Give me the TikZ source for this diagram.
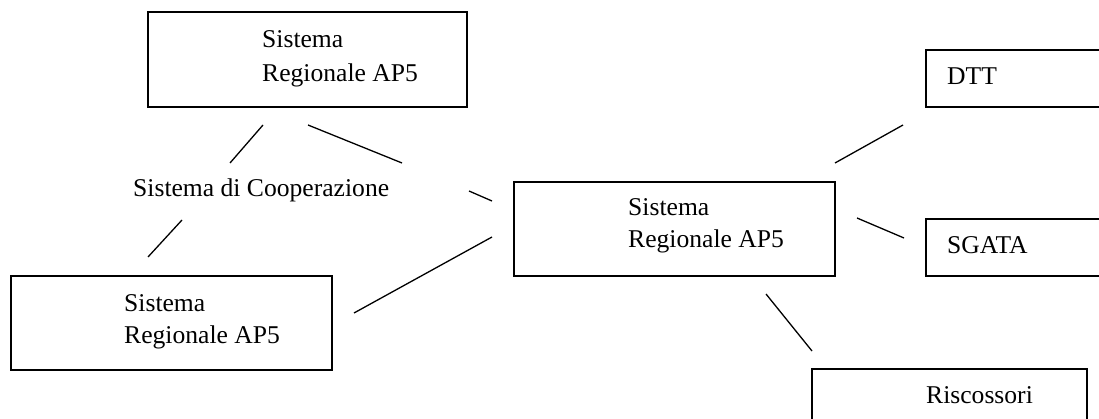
\documentclass[tikz,border=0pt]{standalone}
\usepackage{fontspec}
\setmainfont{Liberation Serif}
\begin{document}
\begin{tikzpicture}[x=1pt,y=-1pt,
  box/.style={draw=black,line width=1.3pt,fill=none},
  lbl/.style={anchor=base west,inner sep=0pt,font=\fontsize{25.6}{33}\selectfont},
  conn/.style={draw=black,line width=1.3pt}]
\useasboundingbox (0,0) rectangle (1099,419);
\fill[white] (0,0) rectangle (1099,419);
\clip (0,0) rectangle (1099,419);
% boxes
\draw[box] (148,12) rectangle (467,107);
\draw[box] (11,276) rectangle (332,370);
\draw[box] (514,182) rectangle (835,276);
\draw[box] (926,50) rectangle (1120,107);
\draw[box] (926,219) rectangle (1120,276);
\draw[box] (812,369) rectangle (1087,440);
% texts
\node[lbl] (t1a) at (262,48) {Sistema};
\node[lbl] (t1b) at (262,82) {Regionale AP5};
\node[lbl] (t2a) at (124,311) {Sistema};
\node[lbl] (t2b) at (124,343) {Regionale AP5};
\node[lbl] (tca) at (628,216) {Sistema};
\node[lbl] (tcb) at (628,248) {Regionale AP5};
\node[lbl] (tdtt) at (947,85) {DTT};
\node[lbl] (tsg) at (947,254) {SGATA};
\node[lbl] (tris) at (926,403) {Riscossori};
\node[lbl] (coop) at (133,197) {Sistema di Cooperazione};
% connector end points
\coordinate (a1) at (263,125); \coordinate (a2) at (230,163);
\coordinate (b1) at (182,220); \coordinate (b2) at (148,257);
\coordinate (c1) at (308,125); \coordinate (c2) at (402,163);
\coordinate (d1) at (469,191); \coordinate (d2) at (492,201);
\coordinate (e1) at (354,313); \coordinate (e2) at (492,237);
\coordinate (f1) at (835,163); \coordinate (f2) at (903,125);
\coordinate (g1) at (857,218); \coordinate (g2) at (904,238);
\coordinate (h1) at (766,294); \coordinate (h2) at (812,351);
\draw[conn] (a1) -- (a2);
\draw[conn] (b1) -- (b2);
\draw[conn] (c1) -- (c2);
\draw[conn] (d1) -- (d2);
\draw[conn] (e1) -- (e2);
\draw[conn] (f1) -- (f2);
\draw[conn] (g1) -- (g2);
\draw[conn] (h1) -- (h2);
\end{tikzpicture}
\end{document}
